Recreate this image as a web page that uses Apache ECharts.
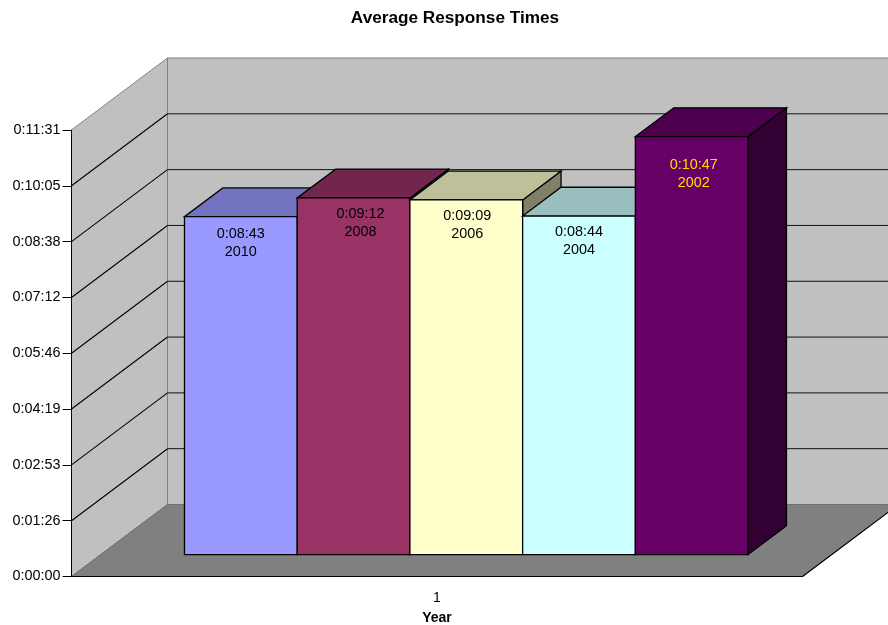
<!DOCTYPE html>
<html>
<head>
<meta charset="utf-8">
<title>Average Response Times</title>
<script src="https://cdn.jsdelivr.net/npm/echarts@6/dist/echarts.min.js"></script>
<style>
	html, body { margin: 0; padding: 0; background: #fff; }
	#chart { width: 888px; height: 625px; }
</style>
</head>
<body>
<div id="chart"></div>
<script>
	// values in seconds
	var categories = ['1'];
	var years = ['2010', '2008', '2006', '2004', '2002'];
	var seconds = [523, 552, 549, 524, 647];
	var yTicks = [0, 86.4, 172.8, 259.2, 345.6, 432, 518.4, 604.8, 691.2];

	var FONT = '"Liberation Sans", Arial, sans-serif';
	var frontColors = ['#9999ff', '#993366', '#ffffcc', '#ccffff', '#660066'];
	var topColors = ['#7373bf', '#73264d', '#bfbf99', '#99bfbf', '#4d004d'];
	var sideColors = ['#4d4d80', '#4d1a33', '#808066', '#668080', '#330033'];
	var labelColors = ['#000', '#000', '#000', '#000', '#ffdd00'];
	// hand placed labels, [dx, dy] from the top centre of each front face
	var labelNudge = [[0, 8], [7, 7], [1, 7], [0, 7], [2, 19]];

	var DX = 96, DY = 72;            // wall depth on screen
	var NEAR = 0.305, FAR = 0.705;   // bar depth as a part of the floor
	var BAR_START = 0.1145, BAR_W = 0.1542;

	function fmt(v) {
		var s = Math.round(v);
		var m = Math.floor(s / 60);
		s = s % 60;
		return '0:' + (m < 10 ? '0' : '') + m + ':' + (s < 10 ? '0' : '') + s;
	}

	function line(x1, y1, x2, y2, color, w) {
		return {
			type: 'line',
			shape: { x1: x1, y1: y1, x2: x2, y2: y2 },
			style: { stroke: color, lineWidth: w || 1, fill: null }
		};
	}

	function poly(points, fill, stroke, w) {
		return {
			type: 'polygon',
			shape: { points: points },
			style: { fill: fill, stroke: stroke, lineWidth: w || 1, lineJoin: 'miter' }
		};
	}

	function renderWalls(params, api) {
		var cs = params.coordSys;
		var x0 = cs.x, x1 = cs.x + cs.width;
		var y0 = api.coord([0, 0])[1];
		var yTop = api.coord([0, yTicks[yTicks.length - 1]])[1];
		var kids = [
			poly([[x0 + DX, yTop - DY], [x1 + DX, yTop - DY], [x1 + DX, y0 - DY], [x0 + DX, y0 - DY]], '#c0c0c0', '#808080'),
			poly([[x0, yTop], [x0 + DX, yTop - DY], [x0 + DX, y0 - DY], [x0, y0]], '#c0c0c0', '#808080'),
			poly([[x0, y0], [x1, y0], [x1 + DX, y0 - DY], [x0 + DX, y0 - DY]], '#808080', '#707070')
		];
		yTicks.slice(1, -1).forEach(function (t) {
			var y = api.coord([0, t])[1];
			kids.push(line(x0, y, x0 + DX, y - DY, '#000', 1.1));
			kids.push(line(x0 + DX, y - DY, x1 + DX, y - DY, '#111'));
		});
		kids.push(line(x1, y0, x1 + DX, y0 - DY, '#000', 1.1));
		return { type: 'group', children: kids };
	}

	function renderBar(params, api) {
		var i = params.dataIndex;
		var cs = params.coordSys;
		var v = api.value(1);
		var base = api.coord([0, 0])[1];
		var top = api.coord([0, v])[1];
		var nx = DX * NEAR, ny = DY * NEAR;
		var l = cs.x + nx + cs.width * (BAR_START + BAR_W * i);
		var r = l + cs.width * BAR_W;
		var b = base - ny, t = top - ny;
		var ox = DX * (FAR - NEAR), oy = DY * (FAR - NEAR);
		var nudge = labelNudge[i];
		return {
			type: 'group',
			children: [
				poly([[r, t], [r + ox, t - oy], [r + ox, b - oy], [r, b]], sideColors[i], '#000', 1.3),
				poly([[l, t], [r, t], [r + ox, t - oy], [l + ox, t - oy]], topColors[i], '#000', 1.3),
				poly([[l, t], [r, t], [r, b], [l, b]], frontColors[i], '#000', 1.3),
				{
					type: 'text',
					style: {
						x: (l + r) / 2 + nudge[0],
						y: t + nudge[1],
						text: fmt(v) + '\n' + years[i],
						fill: labelColors[i],
						font: '14.4px ' + FONT,
						lineHeight: 18,
						align: 'center',
						verticalAlign: 'top'
					}
				}
			]
		};
	}

	var myChart = echarts.init(document.getElementById('chart'), null, { renderer: 'canvas' });
	myChart.setOption({
		animation: false,
		backgroundColor: '#fff',
		title: {
			text: 'Average Response Times',
			left: 455,
			top: 10,
			padding: 0,
			textAlign: 'center',
			textStyle: { fontFamily: FONT, fontSize: 17.2, fontWeight: 'bold', color: '#000' }
		},
		grid: { left: 71.5, right: 85.5, top: 130, bottom: 48.5, outerBoundsMode: 'none' },
		xAxis: {
			type: 'category',
			data: categories,
			z: 5,
			name: 'Year',
			nameLocation: 'middle',
			nameGap: 35,
			nameTextStyle: { fontFamily: FONT, fontSize: 14, fontWeight: 'bold', color: '#000' },
			axisLine: { lineStyle: { color: '#000', width: 1 } },
			axisTick: { length: 9, lineStyle: { color: '#000', width: 1 } },
			axisLabel: { fontFamily: FONT, fontSize: 14, color: '#000', margin: 15 }
		},
		yAxis: {
			type: 'value',
			min: 0,
			max: yTicks[yTicks.length - 1],
			interval: yTicks[1],
			z: 5,
			axisLine: { show: true, lineStyle: { color: '#000', width: 1 } },
			axisTick: { show: true, length: 9, lineStyle: { color: '#000', width: 1 } },
			axisLabel: { fontFamily: FONT, fontSize: 14.4, color: '#000', margin: 11, formatter: fmt },
			splitLine: { show: false }
		},
		series: [{
			name: 'walls',
			type: 'custom',
			renderItem: renderWalls,
			silent: true,
			z: 1,
			clip: false,
			data: [[0, 0]]
		}, {
			name: 'Average response time',
			type: 'custom',
			renderItem: renderBar,
			silent: true,
			z: 2,
			clip: false,
			encode: { x: 0, y: 1 },
			data: seconds.map(function (v) { return [0, v]; })
		}]
	});
</script>
</body>
</html>
